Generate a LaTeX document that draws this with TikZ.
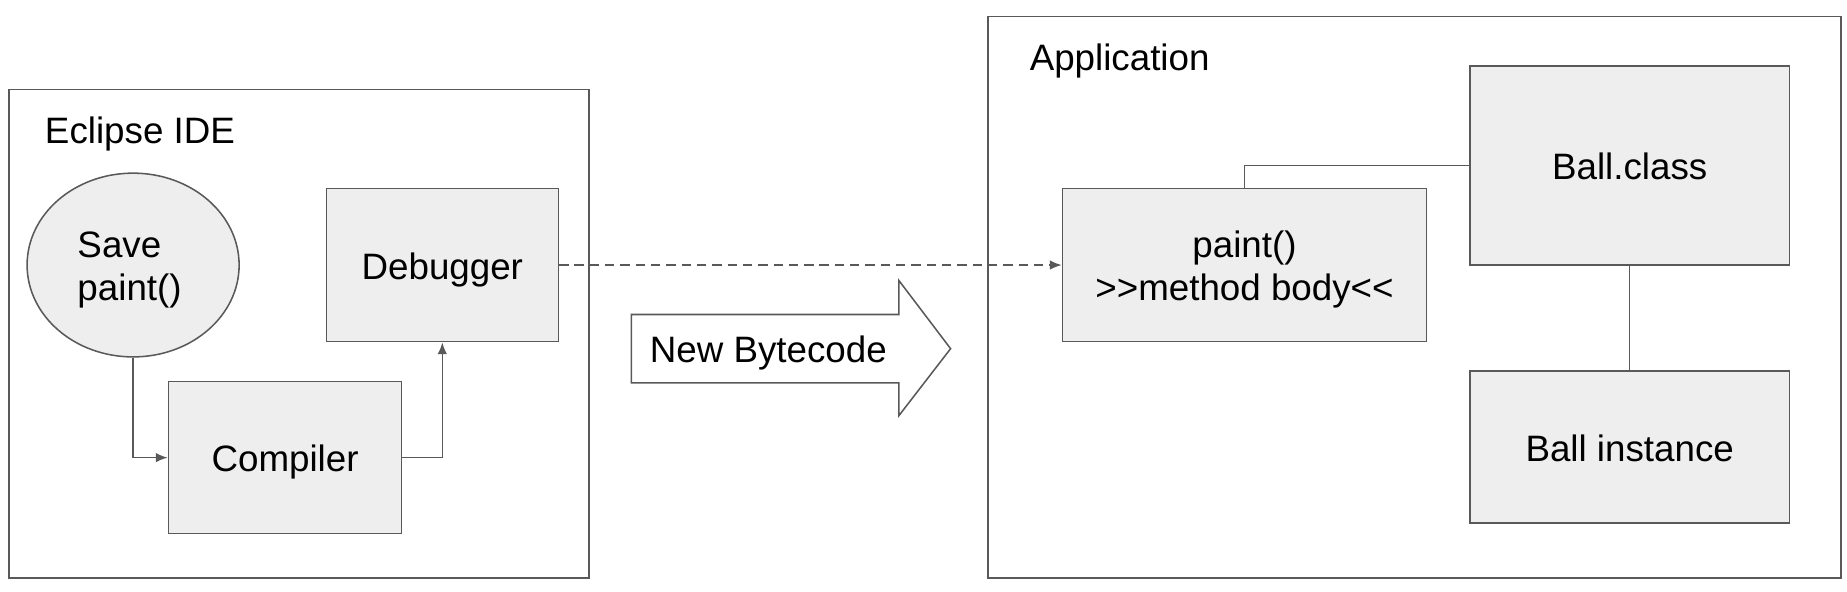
\documentclass[tikz,border=0pt]{standalone}
\usepackage{fontspec}
\setmainfont{Liberation Sans}
\usetikzlibrary{shapes.geometric,arrows.meta}
\definecolor{boxfill}{HTML}{EEEEEE}
\definecolor{edge}{HTML}{595959}
\tikzset{
  container/.style={draw=edge,line width=1.6pt,fill=white},
  procbox/.style={draw=edge,line width=1.3pt,fill=boxfill,inner sep=0pt,align=center,text height=24pt,text depth=0pt},
  twoline/.style={text height=#1,text depth=0pt},
  conn/.style={draw=edge,line width=1.3pt},
  tip/.style={-{Latex[length=10pt,width=8pt]}},
  lbl/.style={inner sep=0pt,anchor=base west},
}
\begin{document}
\begin{tikzpicture}[x=1pt,y=-1pt,font=\fontsize{31.2}{36.5}\selectfont]
\useasboundingbox[fill=white] (0,0) rectangle (1568,502);
% containers
\draw[container] (8,76) rectangle (500,491);
\draw[container] (839,14) rectangle (1563,491);
\node[lbl] (ide) at (38,122) {Eclipse IDE};
\node[lbl] (app) at (874,60) {Application};
% Eclipse side
\node[procbox,ellipse,minimum width=180pt,minimum height=156pt,twoline=61pt] (save) at (113,225)
  {\begin{tabular}[b]{@{}l@{}}Save\\paint()\end{tabular}\hspace{6pt}};
\node[procbox,minimum width=197pt,minimum height=130pt] (dbg) at (375.5,225) {Debugger};
\node[procbox,minimum width=198pt,minimum height=129pt] (comp) at (242,388.5) {Compiler};
\draw[conn,tip] (save.south) |- (comp.west);
\draw[conn,tip] (comp.east) -| (dbg.south);
% Application side
\node[procbox,minimum width=309pt,minimum height=130pt,twoline=60pt] (paint) at (1056.5,225)
  {\begin{tabular}[b]{@{}c@{}}paint()\\>{}>method body<{}<\end{tabular}};
\node[procbox,minimum width=271pt,minimum height=169pt] (ballc) at (1383.5,140.5) {Ball.class};
\node[procbox,minimum width=271pt,minimum height=129pt] (balli) at (1383.5,379.5) {Ball instance};
\draw[conn] (paint.north) |- (ballc.west);
\draw[conn] (ballc.south) -- (balli.north);
% dashed transfer
\draw[conn,tip,dash pattern=on 8pt off 5pt] (dbg.east) -- (paint.west);
% block arrow
\draw[draw=edge,line width=1.3pt,fill=white,line join=miter] (536,267) -- (763,267) -- (763,238) -- (807,296) -- (763,353) -- (763,325) -- (536,325) -- cycle;
\node[lbl] (nb) at (551.5,307.5) {New Bytecode};
\end{tikzpicture}
\end{document}
